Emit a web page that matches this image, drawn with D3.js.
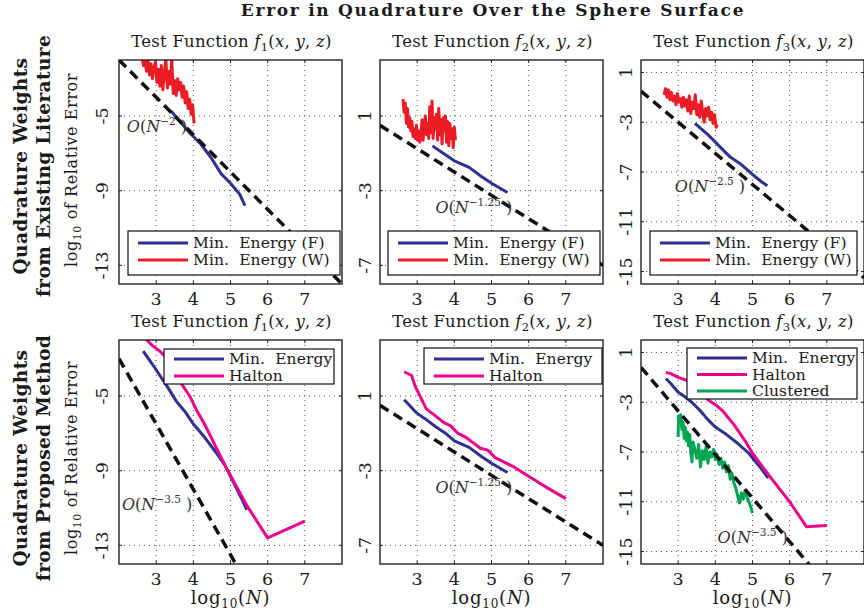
<!DOCTYPE html>
<html>
<head>
<meta charset="utf-8">
<script src="https://cdn.jsdelivr.net/npm/d3@7"></script>
<style>
    body { margin: 0; background: #fff; }
    svg text { font-family: "DejaVu Serif", "Liberation Serif", serif; fill: #1a1a1a; white-space: pre; }
</style>
</head>
<body>
<div id="chart"></div>
<script>
// ---- values (log10 N, log10 relative error) ----
const xTicks  = [3, 4, 5, 6, 7];
const yTicksA = [-13, -9, -5];
const yTicksB = [-7, -3, 1];
const yTicksC = [-15, -11, -7, -3, 1];

// top row: existing literature
const litF1Fliege = [[3.4,-4.73],[3.6,-5.2],[3.9,-5.9],[4.2,-6.5],[4.5,-7.3],[4.75,-8.1],[5.0,-8.6],[5.25,-9.2],[5.39,-9.8]];
const litF1Womx = [[2.62,-1.9],[2.66,-2.3],[2.70,-2.1],[2.74,-2.6],[2.78,-2.0],[2.82,-2.8],[2.86,-2.2],[2.90,-3.0],[2.94,-2.4],[2.98,-2.1],
    [3.02,-3.2],[3.06,-2.5],[3.10,-3.4],[3.14,-2.3],[3.18,-3.6],[3.22,-2.7],[3.26,-1.9],[3.30,-3.5],[3.34,-2.6],[3.38,-3.3],
    [3.42,-2.0],[3.46,-3.8],[3.50,-3.1],[3.54,-3.9],[3.58,-3.0],[3.62,-3.6],[3.66,-3.2],[3.70,-4.0],[3.74,-3.4],[3.78,-4.3],
    [3.82,-3.7],[3.86,-4.6],[3.90,-4.1],[3.94,-4.9],[3.98,-4.4],[4.02,-5.4]];

const litF2Fliege = [[3.41,-0.6],[3.7,-1.0],[4.0,-1.4],[4.4,-1.75],[4.7,-2.2],[5.0,-2.6],[5.43,-3.1]];
const litF2Womx = [[2.62,1.9],[2.65,1.2],[2.68,1.7],[2.71,0.6],[2.74,1.4],[2.77,0.4],[2.80,0.9],[2.83,0.2],[2.86,0.7],[2.89,-0.1],
    [2.92,0.3],[2.95,-0.2],[2.98,0.5],[3.01,-0.3],[3.04,0.2],[3.07,-0.4],[3.10,-0.1],[3.13,0.8],[3.16,-0.3],[3.19,0.4],
    [3.22,1.0],[3.25,0.0],[3.28,0.6],[3.31,-0.2],[3.34,1.5],[3.37,0.1],[3.40,1.8],[3.43,-0.2],[3.46,0.9],[3.49,0.3],
    [3.52,1.1],[3.55,-0.3],[3.58,1.4],[3.61,0.0],[3.64,0.8],[3.67,-0.5],[3.70,0.9],[3.73,0.2],[3.76,1.0],[3.79,-0.4],
    [3.82,0.7],[3.85,-0.6],[3.88,0.6],[3.91,-0.2],[3.94,0.3],[3.97,-0.7],[4.00,0.4],[4.03,-0.3]];

const litF3Fliege = [[3.45,-3.1],[3.8,-4.0],[4.1,-4.9],[4.4,-5.8],[4.7,-6.4],[5.0,-7.2],[5.25,-7.8],[5.4,-8.1]];
const litF3Womx = [[2.62,-0.8],[2.66,-0.3],[2.70,-1.0],[2.74,-0.4],[2.78,-1.2],[2.82,-0.6],[2.86,-1.3],[2.90,-0.9],[2.94,-1.6],[2.98,-0.7],
    [3.02,-1.4],[3.06,-1.1],[3.10,-1.8],[3.14,-1.0],[3.18,-1.7],[3.22,-1.2],[3.26,-2.1],[3.30,-0.9],[3.34,-2.3],[3.38,-1.4],
    [3.42,-1.9],[3.46,-0.8],[3.50,-2.4],[3.54,-1.6],[3.58,-2.6],[3.62,-1.3],[3.66,-2.2],[3.70,-3.0],[3.74,-1.9],[3.78,-2.5],
    [3.82,-1.8],[3.86,-2.8],[3.90,-2.2],[3.94,-3.1],[3.98,-2.4],[4.02,-3.4],[4.06,-3.2]];

// bottom row: proposed method
const newF1MinE = [[2.65,-2.6],[2.9,-3.3],[3.1,-3.9],[3.3,-4.5],[3.55,-5.3],[3.8,-5.9],[4.0,-6.5],[4.3,-7.2],[4.6,-8.0],[4.85,-8.7],[5.1,-9.7],[5.3,-10.5],[5.44,-11.1]];
const newF1Halton = [[2.7,-1.9],[2.9,-2.3],[3.1,-2.6],[3.3,-3.0],[3.5,-3.8],[3.7,-4.4],[3.9,-5.0],[4.1,-5.8],[4.3,-6.5],[4.5,-7.3],[4.7,-8.1],[4.9,-8.9],[5.2,-10.0],[5.45,-10.9],[6.0,-12.6],[7.0,-11.7]];

const newF2MinE = [[2.65,0.8],[2.75,0.6],[2.95,0.15],[3.2,-0.2],[3.5,-0.65],[3.8,-1.05],[4.0,-1.4],[4.4,-1.75],[4.7,-2.2],[5.0,-2.6],[5.43,-3.1]];
const newF2Halton = [[2.65,2.3],[2.85,2.1],[2.95,1.5],[3.05,1.1],[3.25,0.3],[3.45,0.0],[3.7,-0.4],[3.9,-0.6],[4.1,-1.0],[4.3,-1.2],[4.5,-1.5],[4.7,-1.8],[4.9,-1.9],[5.1,-2.3],[5.3,-2.5],[5.6,-2.8],[6.0,-3.3],[6.4,-3.8],[7.0,-4.5]];

const newF3MinE = [[2.67,-1.1],[2.8,-1.5],[3.0,-2.2],[3.2,-2.6],[3.4,-3.1],[3.6,-3.7],[3.8,-4.4],[4.0,-5.0],[4.3,-5.6],[4.6,-6.3],[4.9,-7.1],[5.2,-8.2],[5.42,-9.1]];
const newF3Halton = [[2.67,-0.6],[2.8,-0.7],[3.0,-1.0],[3.2,-1.2],[3.4,-1.5],[3.6,-2.2],[3.8,-2.8],[4.0,-3.2],[4.2,-3.7],[4.5,-4.8],[4.8,-6.1],[5.0,-7.1],[5.5,-9.1],[6.0,-11.0],[6.45,-13.0],[7.0,-12.9]];
const newF3Clustered = [[3.0,-5.8],[3.01,-4.1],[3.04,-4.5],[3.07,-4.0],[3.10,-5.2],[3.13,-4.6],[3.16,-5.9],[3.19,-5.0],[3.22,-6.1],[3.25,-5.4],
    [3.28,-6.5],[3.31,-5.6],[3.34,-7.0],[3.37,-7.8],[3.40,-6.2],[3.45,-6.8],[3.50,-7.5],[3.55,-6.4],[3.60,-8.2],[3.65,-6.9],
    [3.70,-7.6],[3.75,-6.6],[3.80,-7.9],[3.85,-7.0],[3.90,-7.4],[3.95,-6.8],[4.0,-7.6],[4.05,-7.2],[4.1,-8.0],[4.15,-7.5],
    [4.2,-8.3],[4.25,-7.8],[4.3,-8.6],[4.35,-8.1],[4.4,-9.2],[4.45,-8.7],[4.5,-9.5],[4.55,-9.9],[4.6,-10.5],[4.65,-11.1],
    [4.7,-10.3],[4.75,-10.8],[4.8,-10.1],[4.85,-10.6],[4.9,-11.0],[4.95,-11.4],[5.0,-11.9]];

// reference slopes O(N^-p): two end points each
const refN2   = [[2, -2], [8, -14]];
const refN125 = [[2, 0.5], [8, -7]];
const refN25  = [[2, -0.5], [8, -15.5]];
const refN35a = [[2, -3], [8, -24]];
const refN35b = [[2, -0.2], [8, -21.2]];

const BLUE = "#2e3192", RED = "#ed1c24", PINK = "#ec008c", GREEN = "#00a651";

// ---- layout ----
const colLeft = [119, 380, 641], rowTop = [60, 340];
const PW = 223, PH = 224;

const panels = [
    { col: 0, row: 0, fn: "1", y: [-14, -2], ticks: yTicksA, ref: refN2, order: "−2", note: [2.21, -5.86],
      series: [{ d: litF1Fliege, c: BLUE, name: "Min.  Energy (F)" }, { d: litF1Womx, c: RED, name: "Min.  Energy (W)" }],
      leg: { x: 9, y: 171, w: 212, h: 44, step: 17, y0: 12 } },
    { col: 1, row: 0, fn: "2", y: [-8, 4], ticks: yTicksB, ref: refN125, order: "−1.25", note: [3.49, -4.2],
      series: [{ d: litF2Fliege, c: BLUE, name: "Min.  Energy (F)" }, { d: litF2Womx, c: RED, name: "Min.  Energy (W)" }],
      leg: { x: 8, y: 171, w: 212, h: 44, step: 17, y0: 12 } },
    { col: 2, row: 0, fn: "3", y: [-16, 2], ticks: yTicksC, ref: refN25, order: "−2.5", note: [2.91, -8.63],
      series: [{ d: litF3Fliege, c: BLUE, name: "Min.  Energy (F)" }, { d: litF3Womx, c: RED, name: "Min.  Energy (W)" }],
      leg: { x: 9, y: 171, w: 207, h: 44, step: 17, y0: 12 } },
    { col: 0, row: 1, fn: "1", y: [-14, -2], ticks: yTicksA, ref: refN35a, order: "−3.5", note: [2.08, -11.1],
      series: [{ d: newF1MinE, c: BLUE, name: "Min.  Energy" }, { d: newF1Halton, c: PINK, name: "Halton" }],
      leg: { x: 45, y: 9, w: 170, h: 35, step: 17, y0: 10 } },
    { col: 1, row: 1, fn: "2", y: [-8, 4], ticks: yTicksB, ref: refN125, order: "−1.25", note: [3.49, -4.2],
      series: [{ d: newF2MinE, c: BLUE, name: "Min.  Energy" }, { d: newF2Halton, c: PINK, name: "Halton" }],
      leg: { x: 44, y: 8, w: 178, h: 36, step: 17, y0: 11 } },
    { col: 2, row: 1, fn: "3", y: [-16, 2], ticks: yTicksC, ref: refN35b, order: "−3.5", note: [4.06, -14.3],
      series: [{ d: newF3MinE, c: BLUE, name: "Min.  Energy" }, { d: newF3Halton, c: PINK, name: "Halton" },
               { d: newF3Clustered, c: GREEN, name: "Clustered" }],
      leg: { x: 46, y: 8, w: 170, h: 51, step: 16.5, y0: 10 } }
];

const svg = d3.select("#chart").append("svg")
    .attr("width", 864).attr("height", 616);

// title
svg.append("text")
    .attr("x", 493).attr("y", 16)
    .attr("text-anchor", "middle")
    .style("font-size", "17px").style("font-weight", "bold").style("letter-spacing", "1.7px")
    .text("Error in Quadrature Over the Sphere Surface");

// row labels (two bold lines + axis title)
const rowNames = [["Quadrature Weights", "from Existing Literature"], ["Quadrature Weights", "from Proposed Method"]];
const rowCenters = [166, 458];
const errCenters = [170, 458];
rowNames.forEach((names, r) => {
    names.forEach((s, i) => {
        svg.append("text")
            .attr("transform", `translate(${27 + i * 23},${rowCenters[r]}) rotate(-90)`)
            .attr("text-anchor", "middle")
            .style("font-size", "18.5px").style("font-weight", "bold").style("letter-spacing", "0.4px")
            .text(s);
    });
    const lab = svg.append("text")
        .attr("transform", `translate(77,${errCenters[r]}) rotate(-90)`)
        .attr("text-anchor", "middle")
        .style("font-size", "16px").style("letter-spacing", "0.6px");
    lab.append("tspan").text("log");
    lab.append("tspan").attr("dy", 4).style("font-size", "11px").text("10");
    lab.append("tspan").attr("dy", -4).text(" of Relative Error");
});

panels.forEach((p, k) => {
    const left = colLeft[p.col], top = rowTop[p.row];
    const x = d3.scaleLinear().domain([2, 8]).range([0, PW]);
    const y = d3.scaleLinear().domain(p.y).range([PH, 0]);

    const g = svg.append("g").attr("transform", `translate(${left},${top})`);

    g.append("clipPath").attr("id", "clip" + k)
        .append("rect").attr("width", PW).attr("height", PH);

    // dotted grid
    g.selectAll(".gx").data(xTicks).enter().append("line")
        .attr("x1", d => x(d)).attr("x2", d => x(d)).attr("y1", 0).attr("y2", PH)
        .style("stroke", "#555").style("stroke-width", 1).style("stroke-dasharray", "1,4");
    g.selectAll(".gy").data(p.ticks).enter().append("line")
        .attr("y1", d => y(d)).attr("y2", d => y(d)).attr("x1", 0).attr("x2", PW)
        .style("stroke", "#555").style("stroke-width", 1).style("stroke-dasharray", "1,4");

    // inner tick marks on all sides
    const tk = 3;
    xTicks.forEach(t => {
        g.append("line").attr("x1", x(t)).attr("x2", x(t)).attr("y1", PH).attr("y2", PH - tk).style("stroke", "#222");
        g.append("line").attr("x1", x(t)).attr("x2", x(t)).attr("y1", 0).attr("y2", tk).style("stroke", "#222");
    });
    p.ticks.forEach(t => {
        g.append("line").attr("y1", y(t)).attr("y2", y(t)).attr("x1", 0).attr("x2", tk).style("stroke", "#222");
        g.append("line").attr("y1", y(t)).attr("y2", y(t)).attr("x1", PW).attr("x2", PW - tk).style("stroke", "#222");
    });

    // tick labels
    g.selectAll(".xl").data(xTicks).enter().append("text")
        .attr("x", d => x(d)).attr("y", PH + 21)
        .attr("text-anchor", "middle").style("font-size", "17.5px")
        .text(d => d);
    const yOff = p.col == 0 ? 11 : 9;
    g.selectAll(".yl").data(p.ticks).enter().append("text")
        .attr("transform", d => `translate(${-yOff},${y(d)}) rotate(-90)`)
        .attr("text-anchor", "middle").style("font-size", "17.5px")
        .text(d => d);

    const plot = g.append("g").attr("clip-path", `url(#clip${k})`);
    const line = d3.line().x(d => x(d[0])).y(d => y(d[1]));

    p.series.forEach(s => {
        plot.append("path").datum(s.d)
            .attr("d", line)
            .style("fill", "none").style("stroke", s.c)
            .style("stroke-width", 3).style("stroke-linejoin", "round");
    });

    plot.append("path").datum(p.ref)
        .attr("d", line)
        .style("fill", "none").style("stroke", "#111")
        .style("stroke-width", 3.5).style("stroke-dasharray", "10,6");

    // order annotation
    const note = g.append("text")
        .attr("x", x(p.note[0])).attr("y", y(p.note[1]))
        .style("font-size", "16px").style("fill", "#333");
    note.append("tspan").style("font-style", "italic").text("O");
    note.append("tspan").text("(");
    note.append("tspan").style("font-style", "italic").text("N");
    note.append("tspan").attr("dy", -7).style("font-size", "10.5px").text(p.order);
    note.append("tspan").attr("dy", 7).text(" )");

    // legend
    const lg = g.append("g").attr("transform", `translate(${p.leg.x},${p.leg.y})`);
    lg.append("rect").attr("width", p.leg.w).attr("height", p.leg.h)
        .style("fill", "#fff").style("stroke", "#111").style("stroke-width", 1.2);
    p.series.forEach((s, i) => {
        const yy = p.leg.y0 + i * p.leg.step;
        lg.append("line").attr("x1", 10).attr("x2", 60).attr("y1", yy).attr("y2", yy)
            .style("stroke", s.c).style("stroke-width", 3);
        lg.append("text").attr("x", 65).attr("y", yy + 5)
            .style("font-size", "15.5px").style("letter-spacing", "0.1px")
            .text(s.name);
    });

    // panel title
    const ttl = g.append("text")
        .attr("x", PW / 2 + 1).attr("y", -13)
        .attr("text-anchor", "middle").style("font-size", "16.5px").style("letter-spacing", "0.25px");
    ttl.append("tspan").text("Test Function ");
    ttl.append("tspan").style("font-style", "italic").text("f");
    ttl.append("tspan").attr("dy", 4).style("font-size", "11.5px").text(p.fn);
    ttl.append("tspan").attr("dy", -4).text("(");
    ttl.append("tspan").style("font-style", "italic").text("x");
    ttl.append("tspan").text(", ");
    ttl.append("tspan").style("font-style", "italic").text("y");
    ttl.append("tspan").text(", ");
    ttl.append("tspan").style("font-style", "italic").text("z");
    ttl.append("tspan").text(")");

    // x label for bottom row
    if (p.row == 1) {
        const xl = g.append("text")
            .attr("x", PW / 2).attr("y", PH + 40)
            .attr("text-anchor", "middle").style("font-size", "18px").style("letter-spacing", "0.8px");
        xl.append("tspan").text("log");
        xl.append("tspan").attr("dy", 4).style("font-size", "12px").text("10");
        xl.append("tspan").attr("dy", -4).text("(");
        xl.append("tspan").style("font-style", "italic").text("N");
        xl.append("tspan").text(")");
    }

    // frame
    g.append("rect").attr("width", PW).attr("height", PH)
        .style("fill", "none").style("stroke", "#111").style("stroke-width", 1.3);
});
</script>
</body>
</html>
